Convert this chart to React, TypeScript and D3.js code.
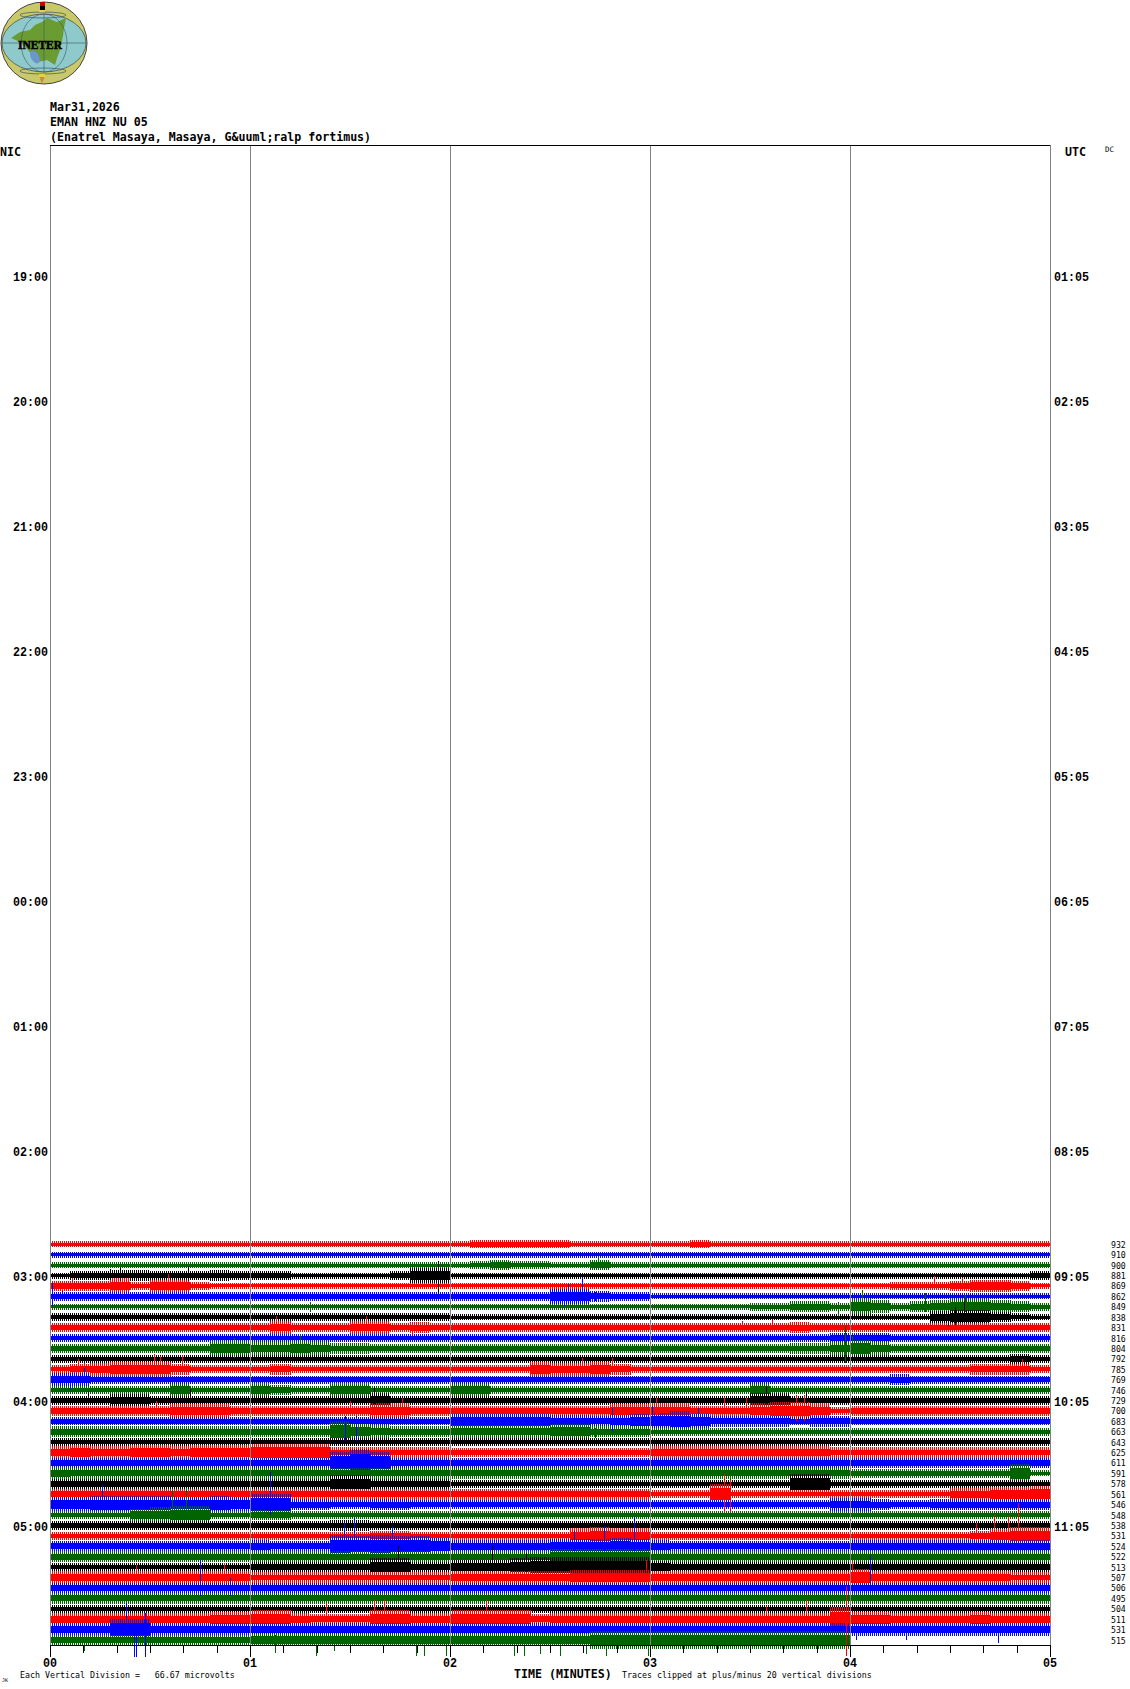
import React from "react";
import * as d3 from "d3";

const traceCounts = [932,910,900,881,869,862,849,838,831,816,804,792,785,769,746,729,700,683,663,643,625,611,591,578,561,546,548,538,531,524,522,513,507,506,495,504,511,531,515];
const traceColors = ["#ff0000","#0000ff","#006400","#000000"];
const nicLabels = ["19:00","20:00","21:00","22:00","23:00","00:00","01:00","02:00","03:00","04:00","05:00"];
const utcLabels = ["01:05","02:05","03:05","04:05","05:05","06:05","07:05","08:05","09:05","10:05","11:05"];
const minuteLabels = ["00","01","02","03","04","05"];

// activity level of each trace per 6 s bin (base 36 digits)
const envelopes = [
"2222222222 2222222222 2333332222 2232222222 2222222222",
"2222222222 2222222222 2222222222 2222222222 2222222222",
"2222222222 2222222222 2343322422 2222222222 2222222222",
"2334433343 3322222366 2222222222 2222222222 2222222223",
"4446355322 2222222222 2222222222 2222222222 2233345542",
"3333333333 3333333333 3333366433 2222222222 2222222222",
"2222222222 2222222222 2222222222 2222233443 6534566543",
"3333333333 3333333333 2222222222 2222222222 2222566432",
"3333333333 3533355343 3333333333 3333333433 3333333333",
"3333333333 3333333333 3333333333 3333333334 4433333333",
"3333333366 5565443333 3333333333 3333333445 7533333333",
"3333333333 3333333333 3333333333 3333333333 3333333343",
"3456664333 3433333333 3333655643 3333333333 3333334443",
"5533333333 3333333333 3333333333 3333333333 3343333333",
"3333335333 6433663333 5533333333 3333353333 3333333333",
"3335533333 3333336333 3333333333 3333366333 3333333333",
"4444445554 4444446644 4444444455 6644467763 4444444444",
"3333333333 3333333333 6666655456 7864444344 3333333333",
"4444444444 4444965444 5555566444 3333333333 3333333333",
"3333333333 3333333333 3333333333 3333333333 3333333333",
"5655665666 7777444444 3333333333 5555555554 4444444444",
"4444444444 44449c9444 4444444444 4444444444 4444444444",
"5444444444 4444444444 4444444444 4444444444 3333333382",
"4444444444 4444774444 3333333333 3333333883 3333333333",
"4444444444 4444444444 4444444444 3338333333 3333355667",
"6677776676 9944334433 3333333333 3333333335 5433444444",
"3333567733 4433333333 3333333333 3333333333 3333333333",
"3333333333 3333443333 3333333333 3333333333 3333333333",
"3333333333 3333334433 3333336766 3333333333 3333334577",
"4444444444 5444989887 5555566676 5444444444 5555555555",
"4444444444 4444444444 4444466666 4444444444 4444444444",
"3333333333 4444447744 6667888888 5444444444 4444444444",
"5555555555 4444444444 5555556666 5555555555 7555555544",
"4444444444 4444444444 4444444444 4444444444 4444444444",
"4444444444 4444444444 4444444444 4444444444 4444444444",
"3333333333 3333333333 3333333333 3333333333 3333333333",
"5555555566 7754447755 7777455555 555555555a 6655556555",
"5559955555 5555555555 5555555555 5555555555 5555555555",
"4444444444 5555555555 5555555777 7777777777",
];

// individual tall excursions: [trace, minute, pixels up, pixels down]
const spikes = [
[3,.35,9,5],[3,.69,10,5],[3,.30,7,4],[3,1.94,15,18],[4,.36,8,8],[4,.59,12,7],[4,.11,8,5],
[5,.01,13,10],[5,.06,5,5],[6,1.30,5,5],[8,1.13,12,6],[8,1.58,12,6],[8,1.81,6,7],
[10,.92,10,10],[10,1.25,14,8],[12,.52,15,8],[12,.55,13,8],[12,.66,14,6],[12,.14,10,6],[12,.17,6,12],
[13,.17,12,4],[13,.10,4,10],[15,.19,9,4],[15,.70,11,4],[15,1.62,13,4],[16,.53,10,5],[16,1.76,13,7],[16,1.50,10,5],
[17,1.475,5,20],[17,1.53,5,20],[18,1.48,11,6],[18,1.52,8,6],
[2,2.74,8,5],[5,2.66,18,8],[5,2.59,12,5],[5,2.57,5,10],[5,2.725,4,5],[4,4.42,10,4],[4,4.56,8,4],
[6,4.06,17,5],[6,4.375,14,5],[6,4.575,12,5],[6,3.94,5,9],[7,4.525,10,8],[7,4.57,16,4],[7,4.49,4,9],[7,4.62,4,7],
[8,3.46,7,3],[8,3.61,8,3],[10,3.975,22,15],[10,4.01,12,8],[12,2.66,11,4],[12,2.81,11,4],[12,4.86,10,4],
[15,3.58,13,4],[15,3.78,11,4],[16,3.03,13,4],[16,3.37,14,4],[16,3.48,13,4],[16,3.73,16,10],[16,3.77,16,10],
[17,2.81,13,10],[17,3.01,15,6],[17,3.15,4,8],[17,3.24,13,8],[18,2.725,4,6],
[25,.26,20,5],[25,1.1,33,10],[26,.68,27,5],[26,.61,25,5],[29,1.52,28,5],[29,1.71,20,5],[29,1.47,23,5],
[31,1.74,21,5],[31,2.21,21,5],[31,2.38,14,5],[32,.87,15,6],[32,.43,13,6],[33,.75,28,8],[33,.9,10,8],
[36,1.62,20,5],[36,1.67,20,5],[36,2.18,20,5],[36,1.38,16,5],[37,.38,27,5],[37,.42,5,27],[37,.43,5,27],[37,.475,17,27],
[38,1.33,5,16],[38,1.42,5,11],[38,1.83,5,16],[38,1.87,5,16],[38,1.98,5,16],[38,2.32,5,16],[38,2.37,5,16],[38,2.45,5,14],[38,.17,5,11],[38,1.125,5,13],
[24,3.37,20,18],[24,3.4,15,18],[28,4.84,33,5],[28,4.72,21,5],[28,4.79,20,5],[28,4.63,13,5],
[29,2.92,29,5],[29,2.77,20,5],[29,2.62,15,5],[33,4.1,32,5],[32,4.01,16,6],[32,2.98,18,6],
[36,3.98,33,37],[36,3.78,20,5],[36,3.58,13,5],[38,2.55,5,16],[38,2.78,5,16],[38,2.99,5,16],[38,2.68,5,14],
[37,4.74,5,13],[37,4.28,5,10],[37,4.03,5,10],
];

const landShape = [[11,38],[20,32],[30,30],[35,25],[42,22],[47,18],[57,22],[66,18],[64,28],[63,36],[60,50],[57,58],[55,65],[47,60],[38,62],[28,50],[20,42]];

const MONO = "'DejaVu Sans Mono', monospace";
const SERIFMONO = "'Liberation Mono', monospace";

const x = d3.scaleLinear().domain([0, 5]).range([50, 1050]);
const traceY = d3.scaleLinear().domain([0, 38]).range([1244.3, 1640]);
const hourY = d3.scaleLinear().domain([0, 10]).range([276, 1526]);
const coreScale = d3.scaleLinear().domain([2, 9]).range([1.5, 6.5]);
const combScale = d3.scaleLinear().domain([2, 9]).range([3, 11]);
const binWidth = 0.1;
const COMB_STEP = 2;

function parseEnv(env) {
  return env.replace(/ /g, "").split("").map((c) => parseInt(c, 36));
}

// solid core of the trace, following the activity level read for each bin
function corePath(env, i) {
  const amps = parseEnv(env);
  const pts = amps.map((a, k) => ({ t: k * binWidth, a }));
  pts.push({ t: amps.length * binWidth, a: amps[amps.length - 1] });
  return d3.area()
    .curve(d3.curveStepAfter)
    .x((d) => x(d.t))
    .y0((d) => traceY(i) - coreScale(d.a))
    .y1((d) => traceY(i) + coreScale(d.a))(pts);
}

// fine hatch out to the level's peak height; this is a drawing style, not sampled waveform data
function fringePath(env, i) {
  const amps = parseEnv(env);
  const path = d3.path();
  amps.forEach((a, k) => {
    const h = combScale(a);
    for (let px = x(k * binWidth); px < x((k + 1) * binWidth); px += COMB_STEP) {
      path.moveTo(px + 0.5, traceY(i) - h);
      path.lineTo(px + 0.5, traceY(i) + h);
    }
  });
  return path.toString();
}

function Logo() {
  const land = d3.line();
  return (
    <g>
      <ellipse cx={44} cy={43} rx={43} ry={41} fill="#c9c96a" stroke="#444" strokeWidth={1} />
      <ellipse cx={44} cy={43} rx={42} ry={29} fill="#8ec9cc" stroke="#444" strokeWidth={0.7} />
      <path d={land(landShape) + "Z"} fill="#6a9c32" />
      <ellipse cx={35} cy={57} rx={4} ry={7} transform="rotate(-30 35 57)" fill="#6a96cc" />
      <ellipse cx={44} cy={43} rx={23} ry={29} fill="none" stroke="#3a5560" strokeWidth={0.6} />
      <line x1={2} x2={86} y1={43} y2={43} stroke="#3a5560" strokeWidth={0.6} />
      <line x1={44} x2={44} y1={14} y2={72} stroke="#3a5560" strokeWidth={0.6} />
      <ellipse cx={43} cy={15} rx={23} ry={3} fill="none" stroke="#3a5560" strokeWidth={0.7} />
      <ellipse cx={43} cy={71} rx={23} ry={3} fill="none" stroke="#3a5560" strokeWidth={0.7} />
      <rect x={40} y={2} width={5} height={4} fill="#cc0000" />
      <rect x={40} y={6} width={5} height={4} fill="#000" />
      <rect x={39} y={10} width={6} height={2} fill="#e8d040" />
      <rect x={39} y={74} width={6} height={3} fill="#e8d040" />
      <path d="M39.5 77 L44.5 77 L42 84 Z" fill="#cc8844" />
      <text x={18} y={49} fontFamily="'Liberation Serif', serif" fontWeight="bold" fontSize={13} stroke="#000" strokeWidth={0.5} fill="#000" textLength={44} lengthAdjust="spacingAndGlyphs">INETER</text>
    </g>
  );
}

export default function App() {
  const ticks = d3.range(0, 31).map((k) => k / 6);
  return (
    <svg width={1130} height={1689} style={{ position: "absolute", left: 0, top: 0, background: "#fff" }}>
      <Logo />
      <g fontFamily={MONO} fontSize={11.6} fontWeight="bold" fill="#000">
        <text x={50} y={111}>Mar31,2026</text>
        <text x={50} y={126}>EMAN HNZ NU 05</text>
        <text x={50} y={141}>(Enatrel Masaya, Masaya, G&amp;uuml;ralp fortimus)</text>
        <text x={0} y={156}>NIC</text>
        <text x={1065} y={156}>UTC</text>
      </g>
      <text x={1105} y={152} fontFamily={MONO} fontSize={7.5} fill="#000">DC</text>

      <g shapeRendering="crispEdges">
        {envelopes.map((env, i) => (
          <g key={i}>
            <path d={fringePath(env, i)} stroke={traceColors[i % 4]} strokeWidth={1} fill="none" />
            <path d={corePath(env, i)} fill={traceColors[i % 4]} />
          </g>
        ))}
        {spikes.map(([tr, m, up, down], k) => (
          <line key={k} x1={Math.round(x(m))+0.5} x2={Math.round(x(m))+0.5} y1={traceY(tr) - up} y2={traceY(tr) + down} stroke={traceColors[tr % 4]} strokeWidth={1} />
        ))}
        {minuteLabels.map((_, m) => (
          <line key={m} x1={x(m)+0.5} x2={x(m)+0.5} y1={145} y2={1645} stroke="#808080" strokeWidth={1} />
        ))}
        <line x1={50} x2={1050} y1={145.5} y2={145.5} stroke="#000" />
        <line x1={50} x2={1050} y1={1645.5} y2={1645.5} stroke="#000" />
        {ticks.map((t, k) => (
          <line key={k} x1={Math.round(x(t))+0.5} x2={Math.round(x(t))+0.5} y1={1645} y2={k % 6 === 0 ? 1657 : 1653} stroke="#000" />
        ))}
      </g>

      <g fontFamily={SERIFMONO} fontWeight="bold" fontSize={13.5} fill="#000">
        {nicLabels.map((s, i) => (
          <text key={s} x={13} y={hourY(i) + 4.8} textLength={35} lengthAdjust="spacingAndGlyphs">{s}</text>
        ))}
        {utcLabels.map((s, i) => (
          <text key={s} x={1054} y={hourY(i) + 4.8} textLength={35} lengthAdjust="spacingAndGlyphs">{s}</text>
        ))}
        {minuteLabels.map((s, m) => (
          <text key={s} x={x(m) - 7} y={1667} textLength={14} lengthAdjust="spacingAndGlyphs">{s}</text>
        ))}
      </g>

      <g fontFamily={MONO} fontSize={8.2} fill="#000">
        {traceCounts.map((c, i) => (
          <text key={i} x={1111} y={traceY(i) + 3.5}>{c}</text>
        ))}
      </g>

      <g fontFamily={MONO} fontSize={8.3} fill="#000">
        <text x={20} y={1678} xmlSpace="preserve">Each Vertical Division =   66.67 microvolts</text>
        <text x={622} y={1678}>Traces clipped at plus/minus 20 vertical divisions</text>
        <text x={2} y={1682} fontSize={5}>JK</text>
      </g>
      <text x={514} y={1678} fontFamily={MONO} fontSize={11.6} fontWeight="bold" fill="#000">TIME (MINUTES)</text>
    </svg>
  );
}
